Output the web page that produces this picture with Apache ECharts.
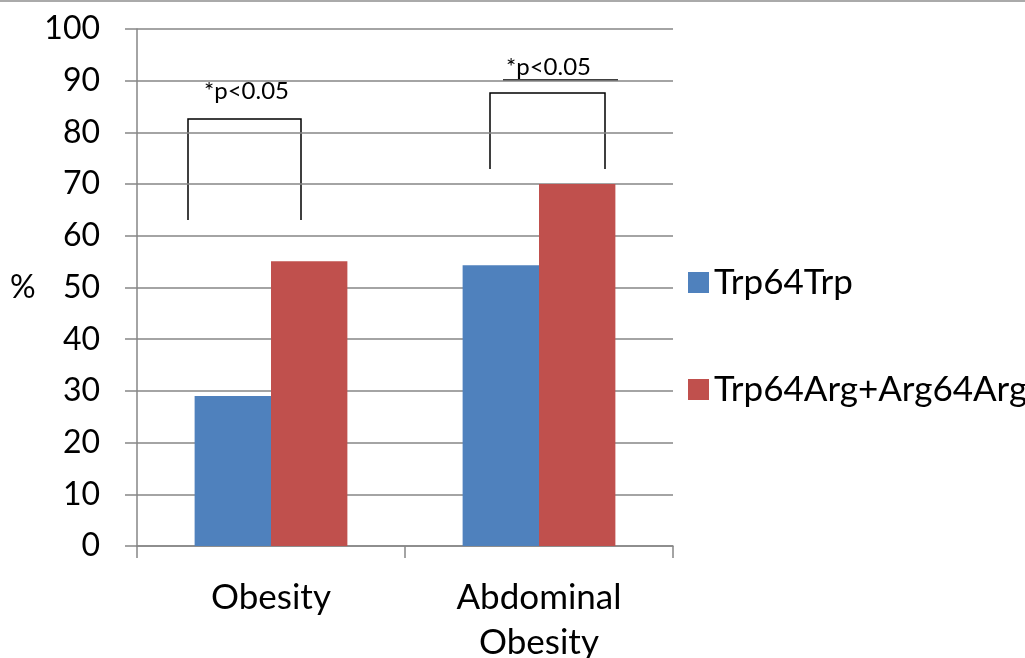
<!DOCTYPE html>
<html>
<head>
<meta charset="utf-8">
<script src="https://cdn.jsdelivr.net/npm/echarts@6/dist/echarts.min.js"></script>
<style>
html,body{margin:0;padding:0;background:#fff;}
#chart{width:1025px;height:658px;}
</style>
</head>
<body>
<div id="chart"></div>
<script>
var categories = ['Obesity', 'Abdominal\nObesity'];
var seriesNames = ['Trp64Trp', 'Trp64Arg+Arg64Arg'];
var trpTrp = [29, 54.3];
var trpArg = [55.1, 70];
var yTicks = [0, 100, 10];

var chart = echarts.init(document.getElementById('chart'));
var F = 'Lato';
var gridColor = '#868686';
var option = {
  animation: false,
  textStyle: {fontFamily: F},
  grid: {left: 137, right: 352, top: 29, bottom: 112, containLabel: false, outerBoundsMode: 'none'},
  legend: {
    orient: 'vertical', left: 683, top: 260,
    itemWidth: 21, itemHeight: 21, itemGap: 72, icon: 'rect',
    textStyle: {fontSize: 35, lineHeight: 35, color: '#000', fontFamily: F},
    data: seriesNames
  },
  xAxis: {
    type: 'category', data: categories,
    axisLine: {lineStyle: {color: gridColor, width: 1.5}},
    axisTick: {show: true, length: 12, lineStyle: {color: gridColor, width: 1.5}},
    axisLabel: {fontSize: 35, color: '#000', lineHeight: 45, margin: 29, fontFamily: F}
  },
  yAxis: {
    type: 'value', min: yTicks[0], max: yTicks[1], interval: yTicks[2],
    axisLine: {show: true, lineStyle: {color: gridColor, width: 1.5}},
    axisTick: {show: true, length: 12, lineStyle: {color: gridColor, width: 1.5}},
    splitLine: {lineStyle: {color: gridColor, width: 1.5}},
    axisLabel: {fontSize: 32, color: '#000', margin: 37, fontFamily: F}
  },
  series: [
    {name: seriesNames[0], type: 'bar', data: trpTrp, barGap: '0%', barCategoryGap: '43%',
     itemStyle: {color: '#4F81BD'}},
    {name: seriesNames[1], type: 'bar', data: trpArg, barGap: '0%', barCategoryGap: '43%',
     itemStyle: {color: '#C0504D'}}
  ],
  graphic: [
    {type: 'line', shape: {x1: 0, y1: 1, x2: 1025, y2: 1}, style: {stroke: '#aaaaaa', lineWidth: 2}},
    {type: 'text', left: 10, top: 272, style: {text: '%', fontSize: 32, fill: '#000', fontFamily: F}},
    {type: 'polyline', shape: {points: [[188, 220], [188, 119], [301, 119], [301, 220]]}, style: {stroke: '#000', lineWidth: 1.5, fill: null}},
    {type: 'text', left: 204, top: 79, style: {text: '*p<0.05', fontSize: 24, fill: '#000', fontFamily: F}},
    {type: 'polyline', shape: {points: [[490, 169], [490, 93], [605, 93], [605, 169]]}, style: {stroke: '#000', lineWidth: 1.5, fill: null}},
    {type: 'text', left: 506, top: 55, style: {text: '*p<0.05', fontSize: 24, fill: '#000', fontFamily: F}},
    {type: 'line', shape: {x1: 503, y1: 80, x2: 618, y2: 80}, style: {stroke: '#000', lineWidth: 1.5}}
  ]
};
chart.setOption(option);
</script>
</body>
</html>
